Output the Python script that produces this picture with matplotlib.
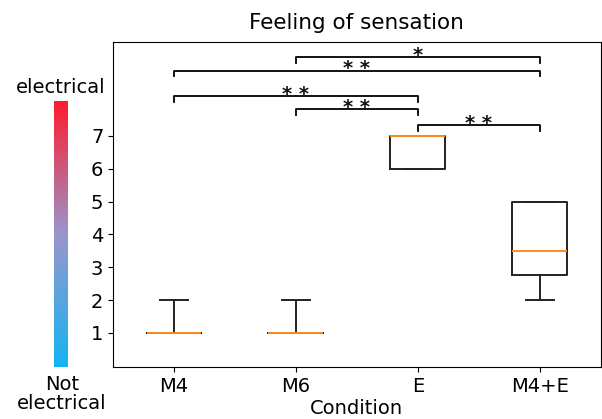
import numpy as np
import matplotlib
matplotlib.use('Agg')
import matplotlib.pyplot as plt
from matplotlib.colors import LinearSegmentedColormap

# Box statistics per condition
conditions = ['M4', 'M6', 'E', 'M4+E']
medians = [1, 1, 7, 3.5]
q1 = [1, 1, 6, 2.75]
q3 = [1, 1, 7, 5]
whislo = [1, 1, 6, 2]
whishi = [2, 2, 7, 5]

# Significance brackets: (left index, right index, bar height, label)
pairs = [(3, 4, 7.33, '**'),
         (2, 3, 7.82, '**'),
         (1, 3, 8.20, '**'),
         (1, 4, 8.99, '**'),
         (2, 4, 9.40, '*')]

fig = plt.figure(figsize=(6.02, 4.19), dpi=100)
ax = fig.add_axes([0.1877, 0.124, 0.8103, 0.7758])

stats = []
for i, name in enumerate(conditions):
    stats.append({'label': name, 'med': medians[i], 'q1': q1[i], 'q3': q3[i],
                  'whislo': whislo[i], 'whishi': whishi[i], 'fliers': []})
lc = '#222222'
ax.bxp(stats, positions=range(1, len(conditions) + 1), widths=0.45,
       showfliers=False,
       boxprops=dict(color=lc, lw=1.4), whiskerprops=dict(color=lc, lw=1.4),
       capprops=dict(color=lc, lw=1.4),
       medianprops=dict(color='#ff8c1a', lw=1.4, zorder=4))

# brackets
for a, b, h, lab in pairs:
    ax.plot([a, a, b, b], [h - 0.17, h, h, h - 0.17], color='black', lw=1.3)
    ax.text((a + b) / 2, h - 0.12, lab.replace('*', '* ').strip(), ha='center',
            va='baseline', fontsize=14, fontweight='bold', color='#111111')

ax.set_xlim(0.5, 4.5)
ax.set_ylim(-0.04, 9.86)
ax.set_yticks([1, 2, 3, 4, 5, 6, 7])
ax.tick_params(labelsize=14)
ax.set_xlabel('Condition', fontsize=14, labelpad=2)
ax.set_title('Feeling of sensation', fontsize=15.5, pad=9)

# colour scale on the left
cmap = LinearSegmentedColormap.from_list('elec', ['#14b4f2', '#9a96cc', '#ff1b2d'])
cax = fig.add_axes([0.0897, 0.124, 0.0216, 0.634])
cax.imshow(np.linspace(0, 1, 256)[:, None], cmap=cmap, aspect='auto', origin='lower')
cax.axis('off')
fig.text(0.1, 0.768, 'electrical', ha='center', va='bottom', fontsize=14)
fig.text(0.103, 0.105, 'Not\nelectrical', ha='center', va='top', fontsize=14,
         linespacing=1.0)

fig.savefig('out.png', dpi=100)
